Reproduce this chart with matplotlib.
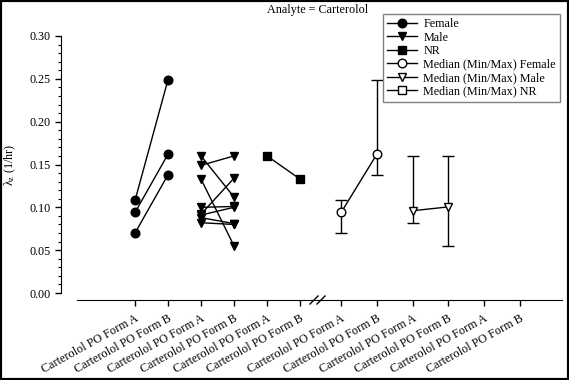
import numpy as np
import matplotlib
matplotlib.use('Agg')
import matplotlib.pyplot as plt
from matplotlib.patches import Rectangle
from matplotlib.lines import Line2D

plt.rcParams['font.family'] = ['Liberation Serif', 'DejaVu Serif']
plt.rcParams['mathtext.fontset'] = 'custom'
plt.rcParams['mathtext.rm'] = 'Liberation Serif'
plt.rcParams['mathtext.it'] = 'Liberation Serif:italic'

# ---------------- data ----------------
title = "Analyte = Carterolol"
ylabel = "λ$_\\mathrm{z}$ (1/hr)"
forms = ["Carterolol PO Form A", "Carterolol PO Form B"]
groups = ["Female", "Male", "NR"]
female_A = [0.108, 0.094, 0.070]
female_B = [0.249, 0.162, 0.138]
male_A = [0.160, 0.149, 0.133, 0.100, 0.092, 0.091, 0.088, 0.082]
male_B = [0.112, 0.160, 0.055, 0.101, 0.134, 0.100, 0.081, 0.080]
nr_A = [0.160]
nr_B = [0.133]
yticks = [0.00, 0.05, 0.10, 0.15, 0.20, 0.25, 0.30]

W, H = 569, 380
fig = plt.figure(figsize=(W / 100, H / 100), dpi=100)


def fx(px):
    return px / W


def fy(py):
    return 1 - py / H


ax1 = fig.add_axes([fx(77), fy(293), fx(318) - fx(77), fy(36) - fy(293)])
ax2 = fig.add_axes([fx(318), fy(293), fx(562) - fx(318), fy(36) - fy(293)])

ind_markers = {"Female": "o", "Male": "v", "NR": "s"}
ind_ms = {"Female": 6.2, "Male": 6.2, "NR": 5.8}
data = {"Female": (female_A, female_B), "Male": (male_A, male_B), "NR": (nr_A, nr_B)}

handles = []
for gi, g in enumerate(groups):
    A, B = data[g]
    for k, (a, b) in enumerate(zip(A, B)):
        ln, = ax1.plot([2 * gi, 2 * gi + 1], [a, b], color='k', lw=1,
                       marker=ind_markers[g], ms=ind_ms[g], mfc='k', mec='k')
        if k == 0:
            handles.append((ln, g))

med_markers = {"Female": "o", "Male": "v", "NR": "s"}
for gi, g in enumerate(groups):
    A, B = data[g]
    label = "Median (Min/Max) " + g
    if g == "NR":
        ln, = ax2.plot([], [], color='k', lw=1, marker='s', ms=5.8, mfc='white', mec='k')
        handles.append((ln, label))
        continue
    med = np.array([np.median(A), np.median(B)])
    lo = np.array([np.min(A), np.min(B)])
    hi = np.array([np.max(A), np.max(B)])
    ax2.errorbar([2 * gi, 2 * gi + 1], med, yerr=[med - lo, hi - med],
                 color='k', lw=1, marker=med_markers[g], ms=6.2, mfc='white',
                 mec='k', capsize=4, elinewidth=1, capthick=1, zorder=3)
    ln = Line2D([], [], color='k', lw=1, marker=med_markers[g], ms=6.2, mfc='white', mec='k')
    handles.append((ln, label))

for ax in (ax1, ax2):
    ax.set_ylim(0, 0.30)
    ax.spines['top'].set_visible(False)
    ax.spines['right'].set_visible(False)
    ax.spines['bottom'].set_position(('outward', 5.0))
    ax.set_xticks(range(6))
    ax.set_xticklabels(forms * 3, rotation=29, ha='right', va='top',
                       rotation_mode='anchor', fontsize=8.7)
    ax.tick_params(axis='x', direction='out', length=4, width=1, pad=5)
    ax.patch.set_visible(False)

ax1.set_xlim(-1.758, 5 + 18 / 33)
ax2.set_xlim(-24 / 37, 5 + 44 / 37)

ax1.spines['left'].set_position(('outward', 11.5))
ax1.spines['left'].set_bounds(0, 0.30)
ax1.set_yticks(yticks)
ax1.set_yticklabels([f"{v:.2f}" for v in yticks], fontsize=8.7)
ax1.set_yticks(np.arange(0, 0.3001, 0.01), minor=True)
ax1.tick_params(axis='y', which='major', direction='out', length=4, width=1, pad=3.5)
ax1.tick_params(axis='y', which='minor', direction='out', length=2.5, width=0.8)
ax1.set_ylabel(ylabel, fontsize=8.7, labelpad=8)

ax2.spines['left'].set_visible(False)
ax2.tick_params(axis='y', left=False, labelleft=False, which='both')

# break marks on x-axis
for xc in (314, 321):
    fig.add_artist(Line2D([fx(xc - 4), fx(xc + 4)], [fy(304), fy(296)],
                          transform=fig.transFigure, color='k', lw=1))

fig.text(fx(318), fy(10), title, ha='center', va='center', fontsize=8.7)

leg = fig.legend([h for h, _ in handles], [l for _, l in handles],
                 loc='upper right', bbox_to_anchor=(fx(560), fy(14)),
                 bbox_transform=fig.transFigure, fontsize=8.7, frameon=True,
                 fancybox=False, framealpha=1, edgecolor='#808080',
                 handlelength=2.5, handletextpad=0.5, labelspacing=0.12,
                 borderpad=0.35, borderaxespad=0)
leg.get_frame().set_linewidth(1)

fig.add_artist(Rectangle((0, 0), 1, 1, transform=fig.transFigure, fill=False,
                         lw=3, ec='k'))

fig.savefig('out.png', dpi=100)
